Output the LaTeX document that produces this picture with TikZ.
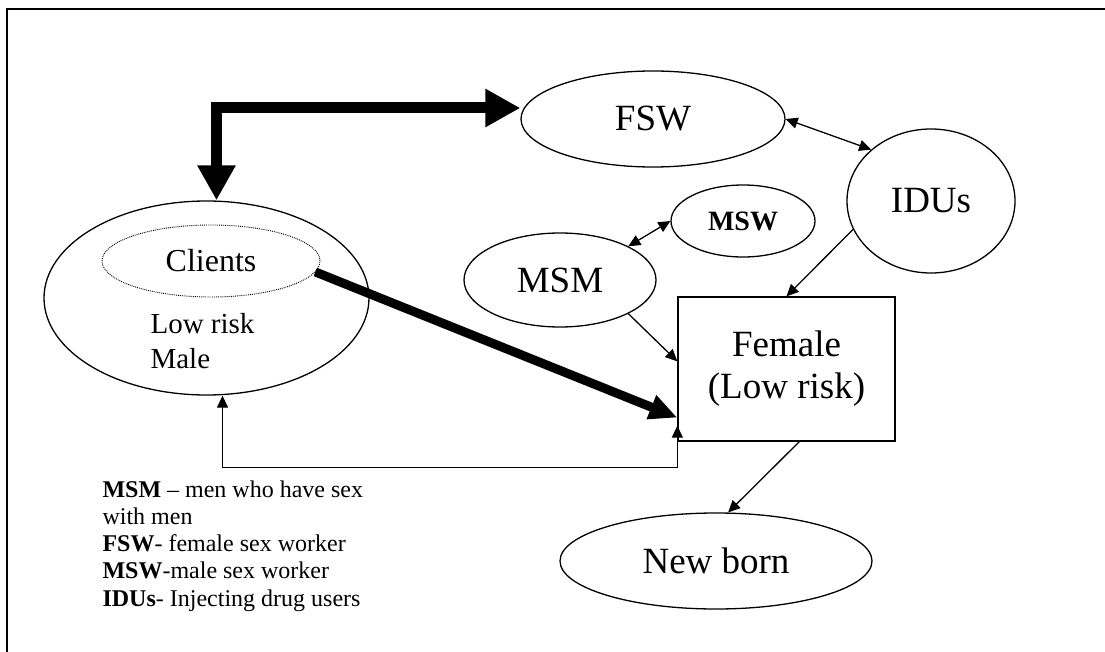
\documentclass[tikz,border=0pt]{standalone}
\usepackage{fontspec}
\setmainfont{Liberation Serif}
\usetikzlibrary{arrows.meta}
\usetikzlibrary{shapes.geometric}

\begin{document}
\begin{tikzpicture}[x=1pt,y=-1pt,
  blob/.style={draw,ellipse,line width=1.3pt,inner sep=0pt,font=\fontsize{37}{42}\selectfont},
  onearr/.style={line width=1.3pt,-{Triangle[length=12pt,width=11pt]}},
  twoarr/.style={line width=1.3pt,{Triangle[length=12pt,width=11pt]}-{Triangle[length=12pt,width=11pt]}},
  legend/.style={anchor=base west,font=\fontsize{24}{27}\selectfont}]
\useasboundingbox (0,0) rectangle (1105,652);
\draw [line width=2pt] (7,652) -- (7,9.5) -- (1105,9.5);
\node [blob,minimum width=264pt,minimum height=96pt] (fsw) at (653,119) {FSW};
\node [blob,minimum width=168pt,minimum height=144pt] (idu) at (931,201) {IDUs};
\node [blob,minimum width=144pt,minimum height=72pt,font=\fontsize{28}{32}\selectfont\bfseries] (msw) at (743,221) {MSW};
\node [blob,minimum width=192pt,minimum height=94pt] (msm) at (560,280) {MSM};
\node [draw,line width=1.3pt,minimum width=217pt,minimum height=144pt,align=center,font=\fontsize{37}{42}\selectfont] (fem) at (786.5,369) {Female\\(Low risk)};
\node [blob,minimum width=312pt,minimum height=96pt] (newborn) at (716,561) {New born};
\node [blob,minimum width=325pt,minimum height=194pt] (clients) at (206.5,298) {};
\node [draw,ellipse,densely dotted,line width=0.9pt,inner sep=0pt,minimum width=218pt,minimum height=72pt,font=\fontsize{32}{36}\selectfont] (clientsin) at (211,261) {Clients};
\node [anchor=base west,font=\fontsize{29}{35}\selectfont] (lowrisk) at (147,333) {Low risk};
\node [anchor=base west,font=\fontsize{29}{35}\selectfont] (male) at (147,368) {Male};
\node [legend] (legmsm) at (99,497) {\textbf{MSM} -- men who have sex};
\node [legend] (legwith) at (99,524) {with men};
\node [legend] (legfsw) at (99,551) {\textbf{FSW}- female sex worker};
\node [legend] (legmsw) at (99,578) {\textbf{MSW}-male sex worker};
\node [legend] (legidu) at (99,606) {\textbf{IDUs}- Injecting drug users};
\draw [line width=11pt,{Triangle[length=35pt,width=36pt]}-{Triangle[length=35pt,width=36pt]}] ([yshift=11pt]fsw.west) -| ([xshift=10pt]clients.north);
\draw [line width=9pt,-{Triangle[length=28pt,width=24pt]}] (clientsin.-6) -- (fem.204);
\draw [twoarr] (fsw.east) -- (idu.north west);
\draw [twoarr] (msw.west) -- (msm.north east);
\draw [onearr] (idu.200) -- (fem.north);
\draw [onearr] (msm.south east) -- (fem.176);
\draw [onearr] (fem.-80) -- (newborn.76);
\draw [twoarr] ([xshift=16pt]clients.south) -- ++(0,72) -| ([yshift=16pt]fem.south west);
\end{tikzpicture}
\end{document}
